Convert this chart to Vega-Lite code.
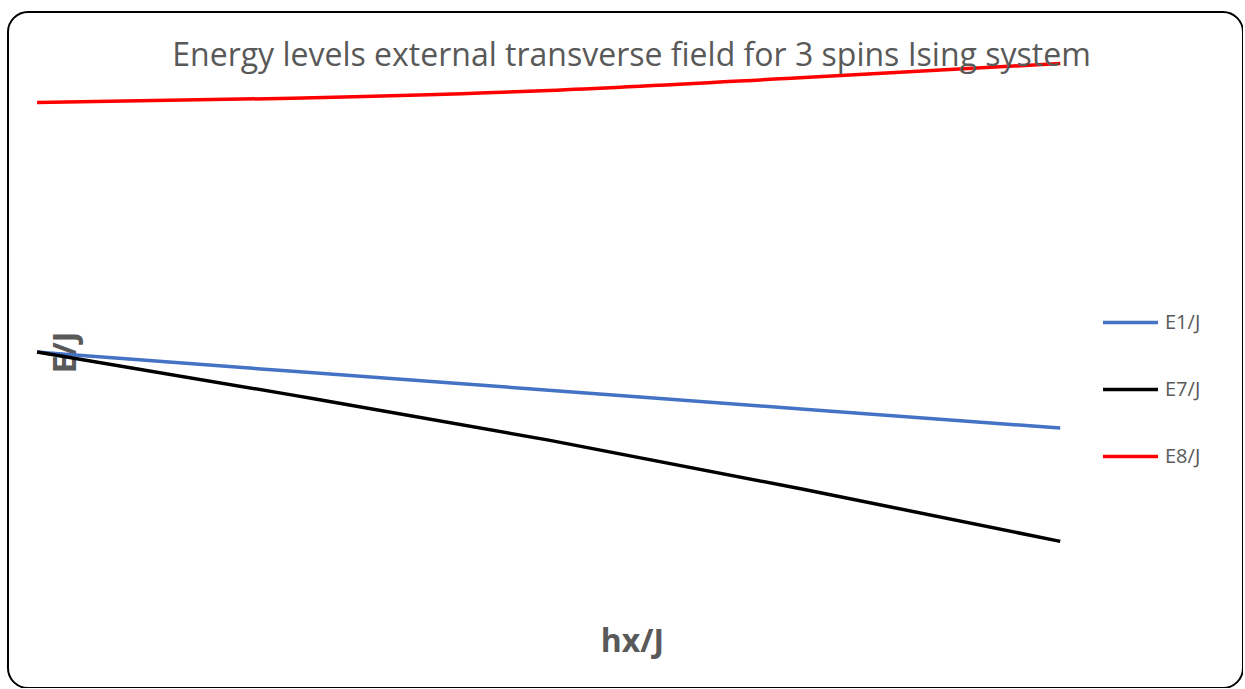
{
  "$schema": "https://vega.github.io/schema/vega-lite/v6.json",
  "width": 1235,
  "height": 676,
  "autosize": {"type": "none"},
  "padding": {"left": 8, "top": 12, "right": 0, "bottom": 0},
  "background": "white",
  "config": {
    "view": {"stroke": "#000000", "strokeWidth": 2, "cornerRadius": 20},
    "font": "Open Sans"
  },
  "title": {
    "text": "Energy levels external transverse field for 3 spins Ising system",
    "font": "Open Sans",
    "fontSize": 32,
    "fontWeight": "normal",
    "color": "#595959",
    "anchor": "middle",
    "baseline": "alphabetic",
    "offset": -54,
    "dy": 32,
    "dx": 6
  },
  "data": {
    "values": [
      {"hx": 0.0, "E": -3.0, "level": "E1/J"},
      {"hx": 0.25, "E": -3.309, "level": "E1/J"},
      {"hx": 0.5, "E": -3.611, "level": "E1/J"},
      {"hx": 0.75, "E": -3.915, "level": "E1/J"},
      {"hx": 1.0, "E": -4.216, "level": "E1/J"},
      {"hx": 0.0, "E": -3.0, "level": "E7/J"},
      {"hx": 0.25, "E": -3.69, "level": "E7/J"},
      {"hx": 0.5, "E": -4.41, "level": "E7/J"},
      {"hx": 0.75, "E": -5.20, "level": "E7/J"},
      {"hx": 1.0, "E": -6.03, "level": "E7/J"},
      {"hx": 0.0, "E": 0.992, "level": "E8/J"},
      {"hx": 0.25, "E": 1.06, "level": "E8/J"},
      {"hx": 0.5, "E": 1.184, "level": "E8/J"},
      {"hx": 0.75, "E": 1.392, "level": "E8/J"},
      {"hx": 1.0, "E": 1.616, "level": "E8/J"}
    ]
  },
  "mark": {"type": "line", "strokeWidth": 3.5, "interpolate": "monotone"},
  "encoding": {
    "x": {
      "field": "hx",
      "type": "quantitative",
      "scale": {"domain": [-0.0284, 1.1786], "nice": false, "zero": false},
      "axis": {
        "title": "hx/J",
        "domain": false, "ticks": false, "labels": false, "grid": false,
        "titleFont": "Open Sans", "titleFontSize": 32, "titleFontWeight": "bold",
        "titleColor": "#595959",
        "titleX": 624, "titleY": -47, "titleBaseline": "middle", "titleAlign": "center"
      }
    },
    "y": {
      "field": "E",
      "type": "quantitative",
      "scale": {"domain": [-8.376, 2.44], "nice": false, "zero": false},
      "axis": {
        "title": "E/J",
        "domain": false, "ticks": false, "labels": false, "grid": false,
        "titleFont": "Open Sans", "titleFontSize": 32, "titleFontWeight": "bold",
        "titleColor": "#595959", "titleAngle": -90,
        "titleX": 57, "titleY": 340, "titleBaseline": "middle", "titleAlign": "center"
      }
    },
    "color": {
      "field": "level",
      "type": "nominal",
      "scale": {"domain": ["E1/J", "E7/J", "E8/J"], "range": ["#4472C4", "#000000", "#FF0000"]},
      "legend": {
        "title": null,
        "orient": "none",
        "legendX": 1093,
        "legendY": 281,
        "symbolType": "stroke",
        "symbolSize": 3025,
        "symbolStrokeWidth": 3.5,
        "labelFont": "Open Sans",
        "labelFontSize": 20,
        "labelColor": "#595959",
        "labelOffset": 5,
        "rowPadding": 27,
        "padding": 0
      }
    }
  }
}
